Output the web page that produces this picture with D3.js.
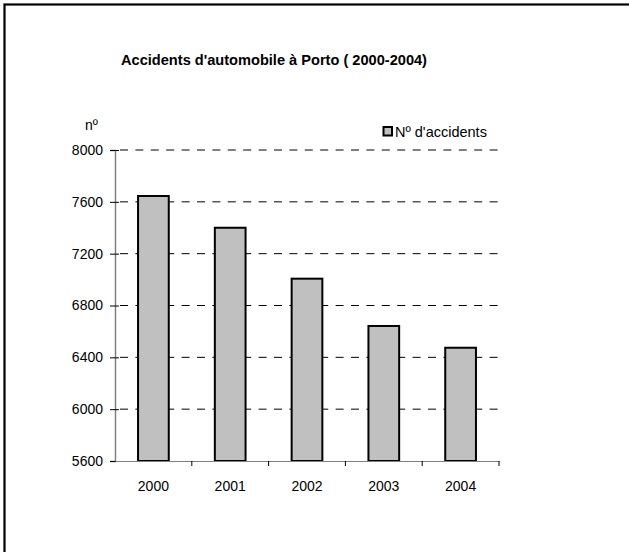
<!DOCTYPE html>
<html>
<head>
<meta charset="utf-8">
<script src="https://cdn.jsdelivr.net/npm/d3@7"></script>
<style>
  html, body { margin: 0; padding: 0; background: #fff; }
  svg { display: block; font-family: "Liberation Sans", Arial, sans-serif; }
</style>
</head>
<body>
<svg id="chart" width="629" height="552"></svg>
<script>
// Road accidents in Porto, 2000–2004
const years = ["2000", "2001", "2002", "2003", "2004"];
const accidents = [7645, 7400, 7007, 6642, 6474];
const yTicks = [5600, 6000, 6400, 6800, 7200, 7600, 8000];
const titleText = "Accidents d'automobile à Porto ( 2000-2004)";
const seriesName = "Nº d'accidents";
const yUnit = "nº";

const svg = d3.select("#chart");

// frame around the chart area
svg.append("rect")
  .attr("x", 4.5).attr("y", 4.5)
  .attr("width", 700).attr("height", 700)
  .attr("fill", "none").attr("stroke", "#000").attr("stroke-width", 2.2);

const plot = { left: 115, right: 499, top: 150, bottom: 461 };

const x = d3.scaleBand()
  .domain(years)
  .range([plot.left, plot.right])
  .paddingInner(0.6)
  .paddingOuter(0.3);

const y = d3.scaleLinear()
  .domain([5600, 8000])
  .range([plot.bottom, plot.top]);

// dashed gridlines
svg.append("g")
  .selectAll("line")
  .data(yTicks.filter(d => d > 5600))
  .join("line")
  .attr("x1", plot.left + 5).attr("x2", plot.right)
  .attr("y1", d => y(d)).attr("y2", d => y(d))
  .attr("stroke", "#000").attr("stroke-width", 1)
  .attr("stroke-dasharray", "8,7.4");

// bars
svg.append("g")
  .selectAll("rect")
  .data(years.map((yr, i) => ({ yr, v: accidents[i] })))
  .join("rect")
  .attr("x", d => x(d.yr))
  .attr("y", d => y(d.v))
  .attr("width", x.bandwidth())
  .attr("height", d => y(5600) - y(d.v))
  .attr("fill", "#c0c0c0")
  .attr("stroke", "#000")
  .attr("stroke-width", 2);

// y axis
const yAxis = svg.append("g")
  .attr("transform", `translate(${plot.left},0)`)
  .call(d3.axisLeft(y).tickValues(yTicks).tickSize(5).tickPadding(7).tickFormat(d3.format("d")));
yAxis.select(".domain").attr("stroke", "#808080").attr("stroke-width", 1.5);
yAxis.selectAll(".tick line").attr("stroke", "#000").attr("x1", 4).attr("x2", -5);
yAxis.selectAll(".tick text")
  .attr("font-size", 14).attr("fill", "#000")
  .attr("font-family", "Liberation Sans, Arial, sans-serif");

// x axis
const xAxis = svg.append("g")
  .attr("transform", `translate(0,${plot.bottom})`)
  .call(d3.axisBottom(x).tickSize(0).tickPadding(20));
xAxis.select(".domain").attr("stroke", "#808080").attr("stroke-width", 1.2);
xAxis.selectAll(".tick text")
  .attr("font-size", 14).attr("fill", "#000")
  .attr("font-family", "Liberation Sans, Arial, sans-serif");

// category separator ticks below the axis
const bounds = years.map(yr => x(yr) - x.step() * x.paddingInner() / 2).concat([plot.right]);
svg.append("g")
  .selectAll("line")
  .data(bounds.slice(1))
  .join("line")
  .attr("x1", d => d).attr("x2", d => d)
  .attr("y1", plot.bottom).attr("y2", plot.bottom + 5)
  .attr("stroke", "#000").attr("stroke-width", 1);

// title
svg.append("text")
  .attr("x", 121).attr("y", 65)
  .attr("font-size", 14.6).attr("font-weight", "bold")
  .text(titleText);

// unit label
svg.append("text")
  .attr("x", 85).attr("y", 130)
  .attr("font-size", 14)
  .text(yUnit);

// legend
svg.append("rect")
  .attr("x", 383.5).attr("y", 127)
  .attr("width", 8.5).attr("height", 8.5)
  .attr("fill", "#c0c0c0").attr("stroke", "#000").attr("stroke-width", 2);
svg.append("text")
  .attr("x", 395).attr("y", 136.5)
  .attr("font-size", 14.5)
  .text(seriesName);
</script>
</body>
</html>
